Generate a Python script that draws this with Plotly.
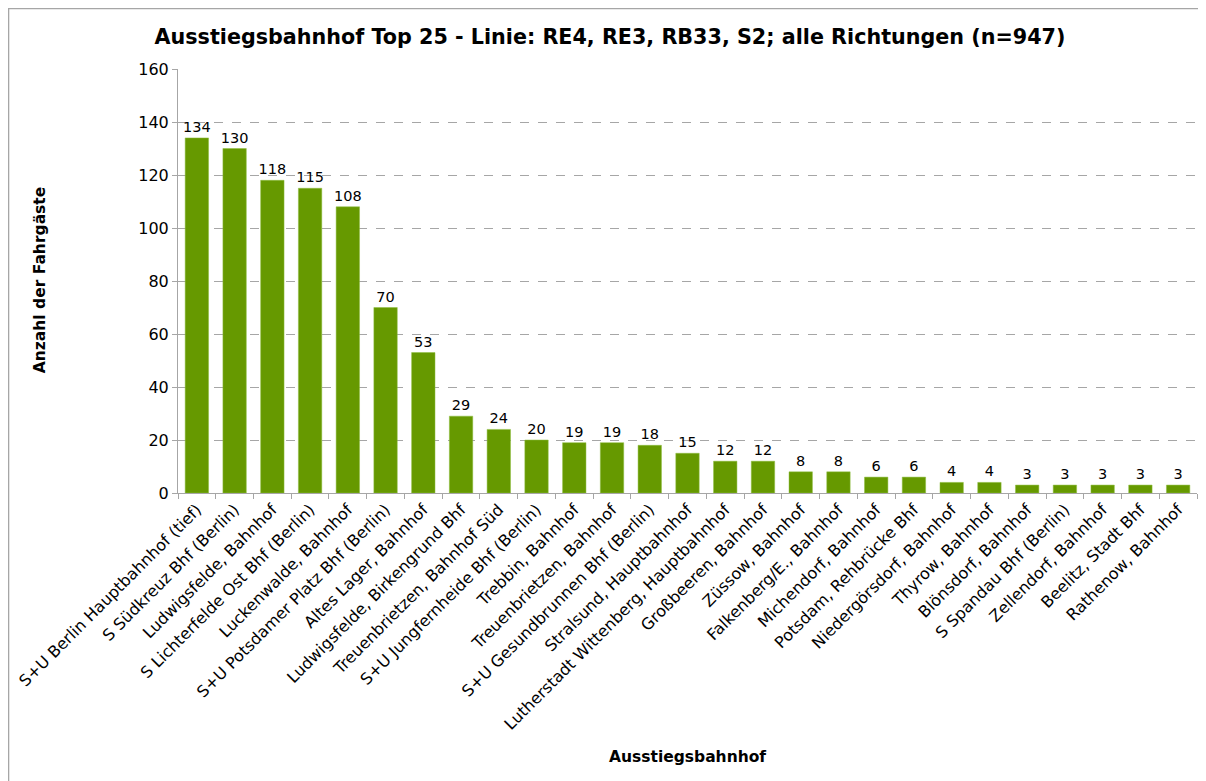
import plotly.graph_objects as go

# exit stations, top 25
stations = [
    "S+U Berlin Hauptbahnhof (tief)",
    "S Südkreuz Bhf (Berlin)",
    "Ludwigsfelde, Bahnhof",
    "S Lichterfelde Ost Bhf (Berlin)",
    "Luckenwalde, Bahnhof",
    "S+U Potsdamer Platz Bhf (Berlin)",
    "Altes Lager, Bahnhof",
    "Ludwigsfelde, Birkengrund Bhf",
    "Treuenbrietzen, Bahnhof Süd",
    "S+U Jungfernheide Bhf (Berlin)",
    "Trebbin, Bahnhof",
    "Treuenbrietzen, Bahnhof",
    "S+U Gesundbrunnen Bhf (Berlin)",
    "Stralsund, Hauptbahnhof",
    "Lutherstadt Wittenberg, Hauptbahnhof",
    "Großbeeren, Bahnhof",
    "Züssow, Bahnhof",
    "Falkenberg/E., Bahnhof",
    "Michendorf, Bahnhof",
    "Potsdam, Rehbrücke Bhf",
    "Niedergörsdorf, Bahnhof",
    "Thyrow, Bahnhof",
    "Blönsdorf, Bahnhof",
    "S Spandau Bhf (Berlin)",
    "Zellendorf, Bahnhof",
    "Beelitz, Stadt Bhf",
    "Rathenow, Bahnhof",
]
passengers = [134, 130, 118, 115, 108, 70, 53, 29, 24, 20, 19, 19, 18, 15,
              12, 12, 8, 8, 6, 6, 4, 4, 3, 3, 3, 3, 3]

y_ticks = list(range(0, 161, 20))

FONT = "DejaVu Sans"

fig = go.Figure(go.Bar(
    x=stations,
    y=passengers,
    marker=dict(color="#669900", line=dict(color="#8fbf40", width=0.5)),
    text=passengers,
    textposition="outside",
    constraintext="none",  # keep labels full size above the narrow bars
    textfont=dict(family=FONT, size=14.5, color="#000000"),
    cliponaxis=False,
))

# the page body has an 8px margin, so the figure is 8px smaller than the window
fig.update_layout(
    width=1198,
    height=773,
    paper_bgcolor="white",
    plot_bgcolor="white",
    margin=dict(l=170, r=9, t=61, b=288, autoexpand=False),
    bargap=0.38,
    showlegend=False,
    font=dict(family=FONT, color="#000000"),
    title=dict(
        text="<b>Ausstiegsbahnhof Top 25 - Linie: RE4, RE3, RB33, S2; alle Richtungen (n=947)</b>",
        x=0.5025, xanchor="center", y=0.9625, yanchor="middle",
        font=dict(family=FONT, size=20.7, color="#000000"),
    ),
)

fig.update_xaxes(
    tickangle=-45,
    tickfont=dict(family=FONT, size=16),
    automargin=False,
    showline=True, linecolor="#a6a6a6", linewidth=1,
    ticks="outside", ticklen=5, tickcolor="#a6a6a6",
    tickson="boundaries",
    showgrid=False,
)

fig.update_yaxes(
    range=[0, 160],
    tickvals=y_ticks,
    tickfont=dict(family=FONT, size=16),
    automargin=False,
    showline=True, linecolor="#a6a6a6", linewidth=1,
    ticks="outside", ticklen=5, tickcolor="#a6a6a6",
    showgrid=True, gridcolor="#a6a6a6", griddash="dash", gridwidth=1,
    zeroline=False,
)

# outer chart frame
fig.add_shape(type="rect", xref="paper", yref="paper",
              x0=-0.1663, x1=1.05, y0=-0.7, y1=1.1427,
              line=dict(color="#a6a6a6", width=1.5), layer="below")

# axis titles placed where the reference has them
fig.add_annotation(text="<b>Anzahl der Fahrgäste</b>", xref="paper", yref="paper",
                   x=-0.1354, y=0.502, textangle=-90, showarrow=False,
                   xanchor="center", yanchor="middle",
                   font=dict(family=FONT, size=15.5))
fig.add_annotation(text="<b>Ausstiegsbahnhof</b>", xref="paper", yref="paper",
                   x=0.5, y=-0.623, showarrow=False,
                   xanchor="center", yanchor="middle",
                   font=dict(family=FONT, size=15.5))

fig.write_html("out.html")
